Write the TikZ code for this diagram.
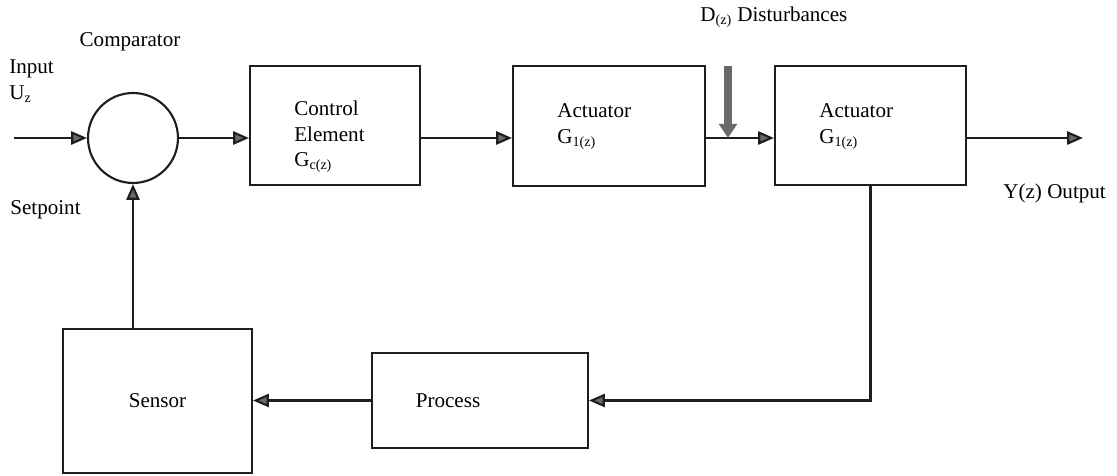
\documentclass[tikz,border=0pt]{standalone}
\usepackage{fontspec}
\setmainfont{Liberation Serif}
\usepackage{tikz}
\usetikzlibrary{arrows.meta,positioning,calc}
\definecolor{ink}{HTML}{1e1e1e}
\definecolor{tip}{HTML}{6a6a6a}

\tikzset{
  blockbox/.style={draw=ink,line width=1.2pt,rectangle,inner sep=0pt},
  sigline/.style={draw=ink,line width=1.2pt,-{Triangle[length=9pt,width=7.5pt,fill=tip]}},
  txt/.style={font=\fontsize{12}{14.5}\selectfont,inner sep=0pt,align=left}
}

\begin{document}
\begin{tikzpicture}[x=0.02cm,y=-0.02cm]
  \useasboundingbox (0,0) rectangle (1117,476);
  % blocks
  \node[draw=ink,line width=1.2pt,circle,minimum size=1.8cm,inner sep=0pt] (cmp) at (133,138) {};
  \node[blockbox,minimum width=3.4cm,minimum height=2.38cm] (ctrl) at (335,125.5) {};
  \node[blockbox,minimum width=3.84cm,minimum height=2.4cm] (act1) at (609,126) {};
  \node[blockbox,minimum width=3.82cm,minimum height=2.38cm] (act2) at (870.5,125.5) {};
  \node[blockbox,minimum width=3.78cm,minimum height=2.88cm] (sensor) at (157.5,401) {};
  \node[blockbox,minimum width=4.32cm,minimum height=1.9cm] (proc) at (480,400.5) {};
  % labels
  \node[txt] (cmplab) at (130,42) {Comparator};
  \node[txt,anchor=west] (inlab) at (9,81) {Input\\U\textsubscript{z}};
  \node[txt,anchor=west] (setlab) at (10,210) {Setpoint};
  \node[txt,anchor=west] (ctrllab) at (294,137) {Control\\Element\\G\textsubscript{c(z)}};
  \node[txt,anchor=west] (act1lab) at (557,126.5) {Actuator\\G\textsubscript{1(z)}};
  \node[txt,anchor=west] (act2lab) at (819,126.5) {Actuator\\G\textsubscript{1(z)}};
  \node[txt] (senslab) at (sensor) {Sensor};
  \node[txt] (proclab) at (448,401) {Process};
  \node[txt,anchor=west] (distlab) at (700,17) {D\textsubscript{(z)} Disturbances};
  \node[txt,anchor=west] (outlab) at (1003,193) {Y(z) Output};
  % forward path
  \coordinate (in) at (14,138);
  \coordinate (out) at (1083,138);
  \coordinate (dtop) at (728,66);
  \draw[sigline] (in) -- (cmp.west);
  \draw[sigline] (cmp.east) -- (cmp.east -| ctrl.west);
  \draw[sigline] (cmp.east -| ctrl.east) -- (cmp.east -| act1.west);
  \draw[sigline] (cmp.east -| act1.east) -- (cmp.east -| act2.west);
  \draw[sigline] (cmp.east -| act2.east) -- (out);
  % disturbance
  \draw[draw=tip,line width=4pt,-{Triangle[length=8pt,width=10pt,fill=tip]}] (dtop) -- (dtop |- cmp.east);
  % feedback path
  \draw[sigline] (act2.south) -- (act2.south |- proc.east) -- (proc.east);
  \draw[sigline] (proc.west) -- (proc.west -| sensor.east);
  \draw[sigline] (cmp.south |- sensor.north) -- (cmp.south);
\end{tikzpicture}
\end{document}
